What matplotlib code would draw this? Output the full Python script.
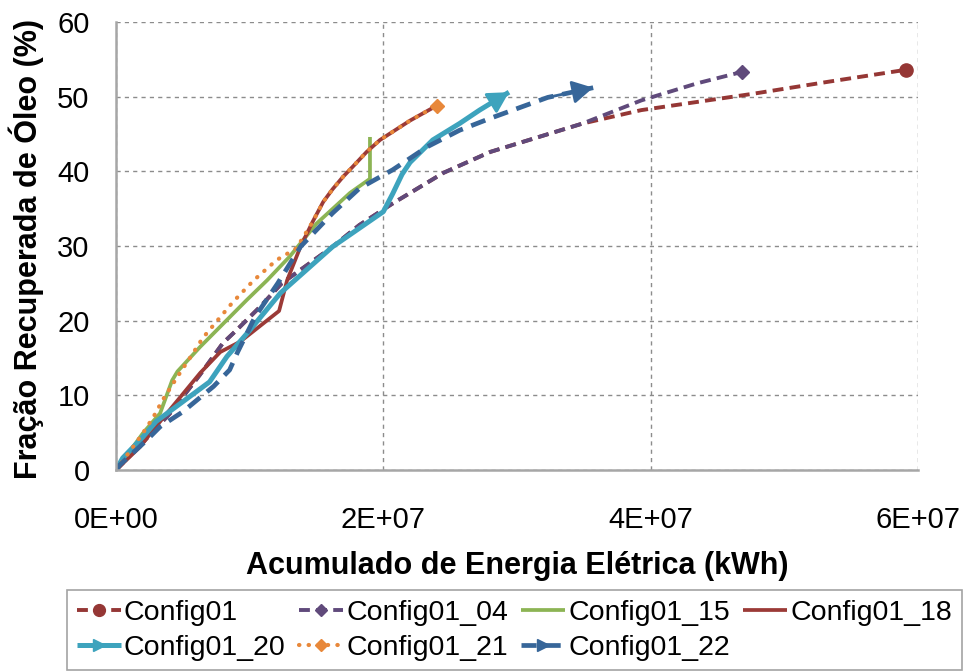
import numpy as np
import matplotlib
matplotlib.use("Agg")
import matplotlib.pyplot as plt
from matplotlib.lines import Line2D
from matplotlib.legend_handler import HandlerLine2D
from matplotlib.ticker import FuncFormatter, MultipleLocator

plt.rcParams['font.family'] = ['Liberation Sans', 'DejaVu Sans']

# values (x in kWh, y in %)
c01_x = [0, 1.8e6, 4.0e6, 6.3e6, 8.0e6, 9.0e6, 1.08e7, 1.24e7, 1.62e7, 1.82e7, 2.07e7,
         2.45e7, 2.8e7, 3.09e7, 3.49e7, 3.93e7, 4.77e7, 5.33e7, 5.91e7]
c01_y = [0, 3.3, 7.5, 12.8, 17.0, 18.7, 21.9, 25.0, 29.9, 32.8, 35.7,
         39.8, 42.6, 44.2, 46.4, 48.2, 50.4, 52.0, 53.6]

c04_x = [0, 1.8e6, 4.0e6, 6.3e6, 8.0e6, 9.0e6, 1.08e7, 1.24e7, 1.62e7, 1.82e7, 2.07e7,
         2.45e7, 2.8e7, 3.09e7, 3.49e7, 3.93e7, 4.35e7, 4.68e7]
c04_y = [0, 3.3, 7.5, 12.8, 17.0, 18.7, 21.9, 25.0, 29.9, 32.8, 35.7,
         39.8, 42.6, 44.2, 46.4, 49.5, 51.8, 53.3]

c15_x = [0, 1.2e6, 2.0e6, 3.3e6, 4.2e6, 4.6e6, 6.3e6, 9.8e6, 1.13e7, 1.3e7, 1.5e7,
         1.75e7, 1.9e7, 1.9e7]
c15_y = [0, 2.9, 4.9, 7.6, 12.0, 13.2, 16.5, 22.8, 25.4, 28.6, 33.0, 37.1, 39.0, 44.6]

c18_x = [0, 1.8e6, 2.8e6, 6.3e6, 7.8e6, 9.3e6, 1.22e7, 1.28e7, 1.38e7, 1.47e7, 1.55e7,
         1.62e7, 1.7e7, 1.77e7, 1.875e7, 1.975e7, 2.2e7, 2.4e7]
c18_y = [0, 3.1, 5.4, 13.0, 15.8, 17.2, 21.3, 25.4, 29.9, 33.2, 35.9,
         37.6, 39.3, 40.6, 42.6, 44.2, 46.8, 48.8]

c20_x = [0, 0.5e6, 2.0e6, 3.0e6, 7.0e6, 8.3e6, 1.0e7, 1.23e7, 1.62e7, 2.0e7, 2.07e7,
         2.14e7, 2.2e7, 2.37e7, 2.57e7, 2.72e7, 2.94e7]
c20_y = [0, 1.6, 4.4, 6.5, 11.8, 15.2, 18.7, 23.7, 29.9, 34.6, 37.0,
         39.6, 41.2, 44.2, 46.4, 48.2, 50.6]

c21_x = [0, 1.2e6, 2.0e6, 2.8e6, 3.5e6, 4.6e6, 5.6e6, 6.5e6, 8.75e6, 1.03e7, 1.2e7,
         1.35e7, 1.47e7, 1.55e7, 1.62e7, 1.7e7, 1.77e7, 1.875e7, 1.975e7, 2.2e7, 2.4e7]
c21_y = [0, 2.9, 4.9, 7.1, 9.4, 12.5, 15.2, 17.7, 22.5, 25.4, 28.1,
         29.7, 33.2, 35.9, 37.6, 39.3, 40.6, 42.6, 44.2, 46.8, 48.8]

c22_x = [0, 0.3e6, 2.3e6, 3.3e6, 5.0e6, 7.3e6, 8.5e6, 9.1e6, 1.04e7, 1.21e7, 1.38e7,
         1.62e7, 1.82e7, 2.07e7, 2.33e7, 2.57e7, 2.8e7, 3.23e7, 3.57e7]
c22_y = [0, 0.7, 4.0, 5.8, 7.8, 11.2, 13.4, 15.8, 20.5, 25.0, 29.9,
         34.4, 37.7, 40.2, 43.3, 45.5, 47.1, 49.9, 51.2]

names = ['Config01', 'Config01_04', 'Config01_15', 'Config01_18',
         'Config01_20', 'Config01_21', 'Config01_22']

RED = '#953735'
PURPLE = '#604A7B'
GREEN = '#8CB454'
RED2 = '#9B3A37'
CYAN = '#3DA3BD'
ORANGE = '#E8883A'
BLUE = '#376699'

# name, x, y, color, lw, dashes, end marker, marker size
series = [
    (names[0], c01_x, c01_y, RED, 2.8, (2.8, 1.6), 'o', 9.5),
    (names[1], c04_x, c04_y, PURPLE, 2.8, (2.8, 1.6), 'D', 7.5),
    (names[2], c15_x, c15_y, GREEN, 2.7, None, None, 0),
    (names[3], c18_x, c18_y, RED2, 2.7, None, None, 0),
    (names[4], c20_x, c20_y, CYAN, 3.6, None, 'arrow', 0),
    (names[5], c21_x, c21_y, ORANGE, 3.0, (0.1, 2.2), 'D', 7.5),
    (names[6], c22_x, c22_y, BLUE, 3.4, (3.2, 1.9), 'arrow', 0),
]

fig = plt.figure(figsize=(9.65, 6.71), dpi=100)
ax = fig.add_axes([116 / 965, 1 - 470 / 671, (918 - 116) / 965, (470 - 22) / 671])

handles = {}
for name, xs, ys, col, lw, dash, mk, ms in series:
    kw = dict(color=col, lw=lw, solid_capstyle='butt')
    if dash is not None:
        kw['dashes'] = dash
        kw['dash_capstyle'] = 'round' if dash[0] < 1 else 'butt'
    ax.plot(xs, ys, **kw)
    if mk == 'arrow':
        ax.annotate('', xy=(xs[-1], ys[-1]), xytext=(xs[-2], ys[-2]),
                    arrowprops=dict(arrowstyle='-|>,head_length=0.9,head_width=0.5',
                                    color=col, lw=lw * 0.6, shrinkA=0, shrinkB=0,
                                    mutation_scale=14))
    elif mk is not None:
        ax.plot(xs[-1:], ys[-1:], marker=mk, ms=ms, color=col, ls='none')
    hk = dict(kw)
    if mk == 'arrow':
        hk.update(marker='>', ms=8)
    elif mk is not None:
        hk.update(marker=mk, ms=ms - 1)
    handles[name] = Line2D([0], [0], **hk)

ax.set_xlim(0, 6e7)
ax.set_ylim(0, 60)
ax.xaxis.set_major_locator(MultipleLocator(2e7))
ax.yaxis.set_major_locator(MultipleLocator(10))
ax.xaxis.set_major_formatter(FuncFormatter(lambda v, p: f"{v:.0E}"))
ax.grid(True, color='#8C8C8C', lw=1.0, dashes=(3, 3))
ax.set_axisbelow(True)
for s in ['top', 'right']:
    ax.spines[s].set_visible(False)
for s in ['left', 'bottom']:
    ax.spines[s].set_color('#A6A6A6')
    ax.spines[s].set_linewidth(1.8)
ax.tick_params(axis='both', length=0, labelsize=21)
ax.tick_params(axis='x', pad=26)
ax.tick_params(axis='y', pad=19)

ax.set_xlabel('Acumulado de Energia Elétrica (kWh)', fontsize=22, fontweight='bold')
ax.set_ylabel('Fração Recuperada de Óleo (%)', fontsize=22, fontweight='bold')
ax.xaxis.set_label_coords(0.5, -0.18)
ax.yaxis.set_label_coords(-0.09, 0.493)


class EndMarkerHandler(HandlerLine2D):
    def get_xdata(self, legend, xdescent, ydescent, width, height, fontsize):
        xdata = np.array([-xdescent, -xdescent + width])
        return xdata, np.array([-xdescent + width - 0.12 * fontsize])


order = ['Config01', 'Config01_20', 'Config01_04', 'Config01_21',
         'Config01_15', 'Config01_22', 'Config01_18']
leg = fig.legend([handles[n] for n in order], order, ncol=4,
                 loc='upper left', bbox_to_anchor=(67 / 965, 0, (962 - 67) / 965, 1 - 590 / 671),
                 mode='expand', borderaxespad=0, fontsize=20.5, frameon=True, fancybox=False,
                 edgecolor='#8C8C8C', handlelength=1.55, handletextpad=0.1,
                 labelspacing=0.3, borderpad=0.35, columnspacing=0.5,
                 handler_map={Line2D: EndMarkerHandler()})
leg.get_frame().set_linewidth(1.2)

fig.savefig('out.png', dpi=100)
